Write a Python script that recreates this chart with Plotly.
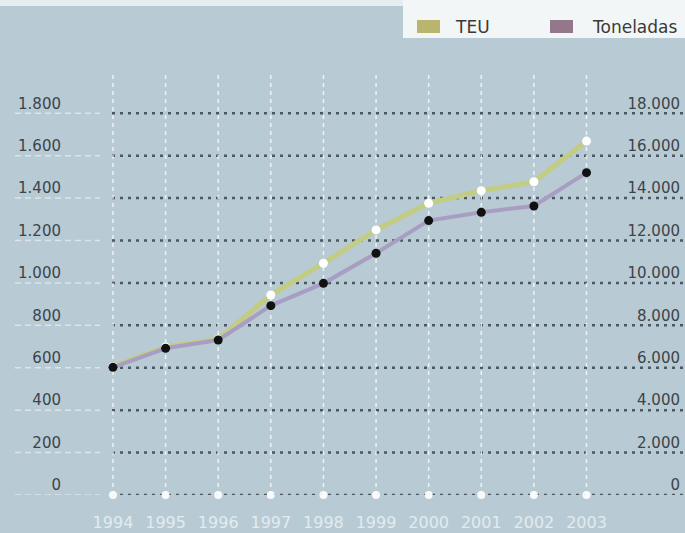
import plotly.graph_objects as go

# ---- data ----
years = [1994, 1995, 1996, 1997, 1998, 1999, 2000, 2001, 2002, 2003]
teu = [605, 698, 735, 943, 1093, 1250, 1376, 1435, 1477, 1669]
toneladas = [6020, 6920, 7310, 8930, 9980, 11400, 12940, 13330, 13630, 15200]
left_ticks = [0, 200, 400, 600, 800, 1000, 1200, 1400, 1600, 1800]
left_labels = ["0", "200", "400", "600", "800", "1.000", "1.200", "1.400", "1.600", "1.800"]
right_ticks = [0, 2000, 4000, 6000, 8000, 10000, 12000, 14000, 16000, 18000]
right_labels = ["0", "2.000", "4.000", "6.000", "8.000", "10.000", "12.000", "14.000", "16.000", "18.000"]
year_labels = [str(y) for y in years]
series_names = ["TEU", "Toneladas"]

# ---- styling / layout ----
W, H = 685, 533
ML, MR, MT, MB = 65, 0, 0, 38
PW, PH = W - ML - MR, H - MT - MB
BG = "#b8cad4"
TEU_LINE = "#c2cc82"
TON_LINE = "#a89ec3"
TEU_SWATCH = "#b9b56c"
TON_SWATCH = "#94778a"
FONT = "DejaVu Sans"

X_RANGE = [1993.088, 2004.872]
Y_RANGE = [0, 2334.2]
Y2_RANGE = [0, 23342]


def px_x(px):
    return (px - ML) / PW


def px_y(py):
    return (H - MB - py) / PH


fig = go.Figure()

fig.add_trace(go.Scatter(x=years, y=teu, mode="lines", name=series_names[0],
                         line=dict(color=TEU_LINE, width=5), showlegend=False,
                         cliponaxis=False, yaxis="y"))
fig.add_trace(go.Scatter(x=years, y=teu, mode="markers", name=series_names[0],
                         marker=dict(color="white", size=9, line=dict(width=0)),
                         showlegend=False, cliponaxis=False, yaxis="y"))
fig.add_trace(go.Scatter(x=years, y=[0] * len(years), mode="markers",
                         marker=dict(color="rgba(255,255,255,0.9)", size=8),
                         showlegend=False, cliponaxis=False, hoverinfo="skip", yaxis="y"))
fig.add_trace(go.Scatter(x=years, y=toneladas, mode="lines", name=series_names[1],
                         line=dict(color=TON_LINE, width=4), showlegend=False,
                         cliponaxis=False, yaxis="y2"))
fig.add_trace(go.Scatter(x=years, y=toneladas, mode="markers", name=series_names[1],
                         marker=dict(color="#111111", size=9, line=dict(width=0)),
                         showlegend=False, cliponaxis=False, yaxis="y2"))

shapes = []
# vertical white dashed lines
for yr in years:
    shapes.append(dict(type="line", xref="x", yref="y", x0=yr, x1=yr, y0=0, y1=2000,
                       line=dict(color="rgba(255,255,255,0.75)", width=1.5, dash="4px,4px"),
                       layer="below"))
# horizontal grid: faint white dashes on the left, dark dots in the plot
for v in left_ticks:
    shapes.append(dict(type="line", xref="paper", yref="y", x0=px_x(15), x1=px_x(100),
                       y0=v, y1=v,
                       line=dict(color="rgba(255,255,255,0.5)", width=1.5, dash="6px,4px"),
                       layer="below"))
    shapes.append(dict(type="line", xref="paper", yref="y", x0=px_x(112), x1=1.0,
                       y0=v, y1=v,
                       line=dict(color="#4b5861", width=2.5, dash="3px,5px"),
                       layer="below"))
# top strip and legend box
shapes.append(dict(type="rect", xref="paper", yref="paper", x0=px_x(0), x1=px_x(403),
                   y0=px_y(6), y1=px_y(0), fillcolor="#e6edf0", line=dict(width=0),
                   layer="below"))
shapes.append(dict(type="rect", xref="paper", yref="paper", x0=px_x(403), x1=1.0,
                   y0=px_y(38), y1=px_y(0), fillcolor="#f3f6f7", line=dict(width=0),
                   layer="above"))
shapes.append(dict(type="rect", xref="paper", yref="paper", x0=px_x(417), x1=px_x(440),
                   y0=px_y(33), y1=px_y(20), fillcolor=TEU_SWATCH, line=dict(width=0),
                   layer="above"))
shapes.append(dict(type="rect", xref="paper", yref="paper", x0=px_x(550), x1=px_x(573),
                   y0=px_y(33), y1=px_y(20), fillcolor=TON_SWATCH, line=dict(width=0),
                   layer="above"))

annotations = [
    dict(text=series_names[0], xref="paper", yref="paper", x=px_x(453), y=px_y(27),
         xanchor="left", yanchor="middle", showarrow=False,
         font=dict(family=FONT, size=17, color="#3a3a3a")),
    dict(text=series_names[1], xref="paper", yref="paper", x=px_x(590), y=px_y(27),
         xanchor="left", yanchor="middle", showarrow=False,
         font=dict(family=FONT, size=17, color="#3a3a3a")),
]

axis_font = dict(family=FONT, size=15, color="#3c4449")

fig.update_layout(
    width=W, height=H,
    margin=dict(l=ML, r=MR, t=MT, b=MB, pad=0),
    paper_bgcolor=BG, plot_bgcolor=BG,
    showlegend=False,
    shapes=shapes, annotations=annotations,
    xaxis=dict(range=X_RANGE, tickmode="array", tickvals=years, ticktext=year_labels,
               showgrid=False, zeroline=False, showline=False, ticks="",
               tickfont=dict(family=FONT, size=16, color="#e2ecf0"),
               ticklabelstandoff=16, fixedrange=True),
    yaxis=dict(range=Y_RANGE, tickmode="array", tickvals=left_ticks, ticktext=left_labels,
               showgrid=False, zeroline=False, showline=False, ticks="",
               tickfont=axis_font, ticklabelshift=-10, ticklabelstandoff=3),
    yaxis2=dict(range=Y2_RANGE, overlaying="y", side="right", tickmode="array",
                tickvals=right_ticks, ticktext=right_labels, showgrid=False,
                zeroline=False, showline=False, ticks="", ticklabelposition="inside",
                tickfont=axis_font, ticklabelshift=-10, ticklabelstandoff=2),
)

fig.write_html("out.html", config={"displayModeBar": False},
               post_script="document.body.style.margin='0';document.body.style.overflow='hidden';")
